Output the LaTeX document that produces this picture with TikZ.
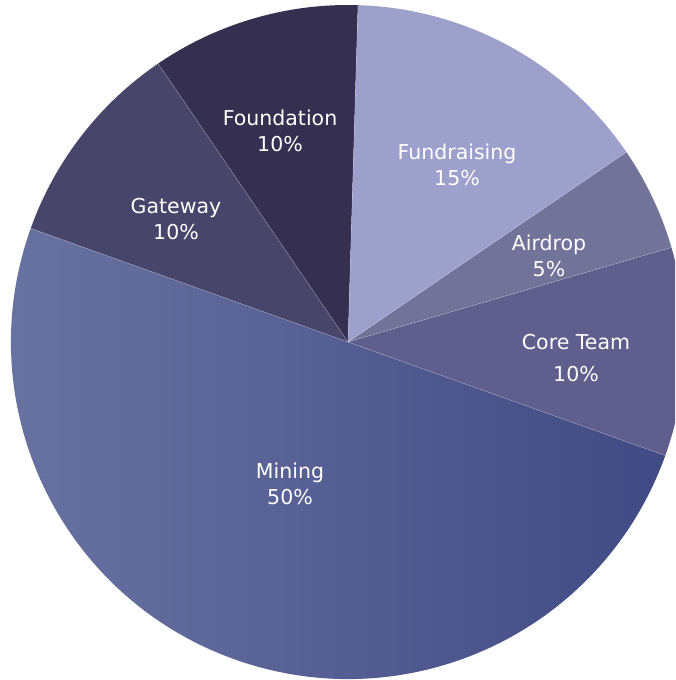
\documentclass[tikz,border=0pt]{standalone}
\usepackage{fontspec}
\usepackage{tikz}
\newfontfamily\labelfont{DejaVu Sans}
\definecolor{foundcol}{HTML}{352F50}
\definecolor{gatecol}{HTML}{48456B}
\definecolor{fundcol}{HTML}{9CA0CB}
\definecolor{aircol}{HTML}{727398}
\definecolor{corecol}{HTML}{5F5E8D}
\definecolor{minelight}{HTML}{6B75A3}
\definecolor{minedark}{HTML}{404A84}
\tikzset{
    pielabel/.style={text=white, align=center, inner sep=0pt,
        font=\labelfont\fontsize{20.5}{26}\selectfont},
    sepline/.style={white, opacity=0.35, line width=0.4pt}
}
\newcommand{\drawslice}[3]{
    % one wedge of the pie, from angle #1 to angle #2
    \path[#3] (c) -- ([shift={(#1:337pt)}]c)
        arc[start angle=#1, end angle=#2, radius=337pt] -- cycle;
}
\begin{document}
\begin{tikzpicture}[x=1pt, y=1pt]
    \clip (0,0) rectangle (675,680);
    \fill[white] (0,0) rectangle (675,680);

    % centre of the pie
    \coordinate (c) at (348,338);

    % slices
    \drawslice{88.3}{124.3}{fill=foundcol}
    \drawslice{124.3}{160.3}{fill=gatecol}
    \drawslice{160.3}{340.3}{left color=minelight, right color=minedark}
    \drawslice{-19.7}{16.3}{fill=corecol}
    \drawslice{16.3}{34.3}{fill=aircol}
    \drawslice{34.3}{88.3}{fill=fundcol}

    % thin lines between the slices
    \foreach \a in {88.3,124.3,160.3,340.3,16.3,34.3}
    \draw[sepline] (c) -- ([shift={(\a:337pt)}]c);

    % labels
    \node[pielabel] (foundation) at (280,549) {Foundation\\10\%};
    \node[pielabel] (gateway) at (176,461) {Gateway\\10\%};
    \node[pielabel] (fundraising) at (457,515) {Fundraising\\15\%};
    \node[pielabel] (airdrop) at (549,424) {Airdrop\\5\%};
    \node[pielabel] (coreteam) at (576,322) {Core Team\\[6pt]10\%};
    \node[pielabel] (mining) at (290,196) {Mining\\50\%};
\end{tikzpicture}
\end{document}
